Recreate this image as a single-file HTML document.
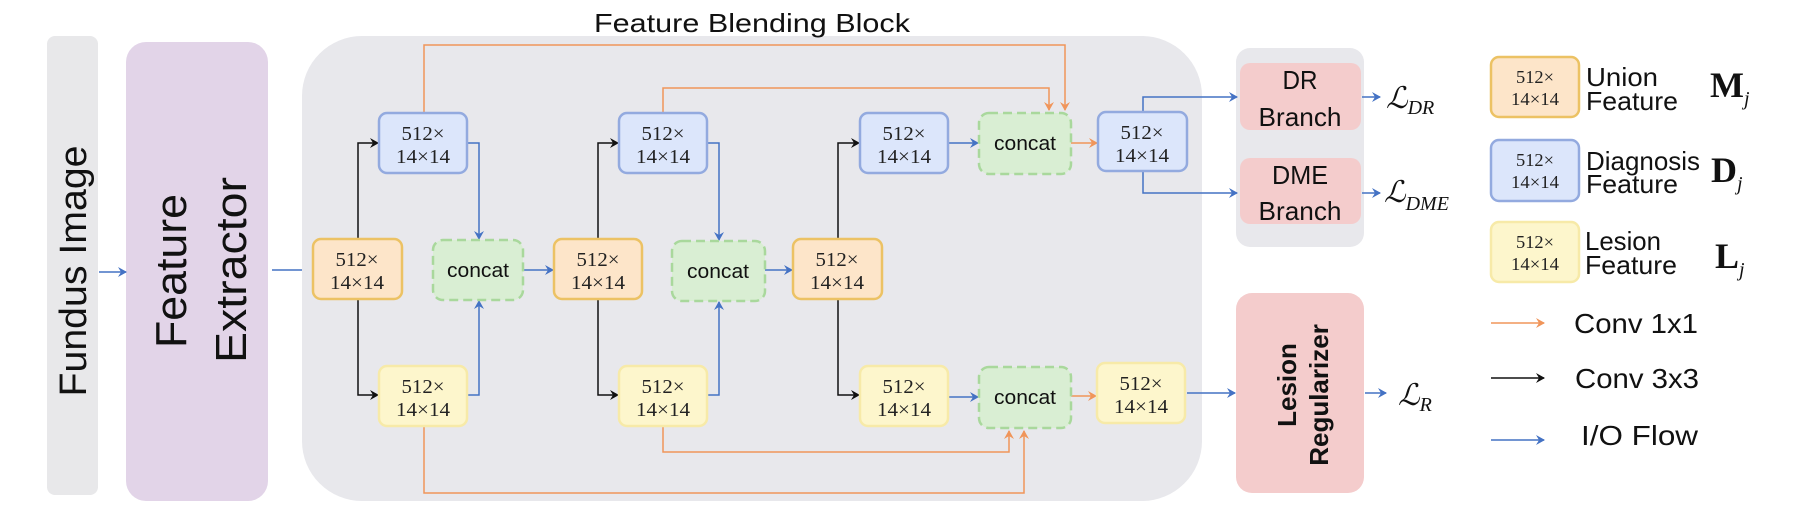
<!DOCTYPE html>
<html><head><meta charset="utf-8"><style>
html,body{margin:0;padding:0;background:#fff;}
svg{display:block;}
.bt{font-family:"Liberation Serif",serif;font-size:20px;fill:#222;text-anchor:middle;}
.ct{font-family:"Liberation Sans",sans-serif;font-size:20px;fill:#111;text-anchor:middle;}
.st{font-family:"Liberation Sans",sans-serif;fill:#111;}
.mt{font-family:"Liberation Serif",serif;font-style:italic;fill:#111;}
</style></head><body>
<svg width="1810" height="529" viewBox="0 0 1810 529" xmlns="http://www.w3.org/2000/svg">
<defs>
<marker id="ab" markerWidth="10" markerHeight="10" refX="8" refY="5" orient="auto" markerUnits="userSpaceOnUse"><path d="M0,0 L9,5 L0,10 L3,5 z" fill="#4472c4"/></marker>
<marker id="ao" markerWidth="10" markerHeight="10" refX="8" refY="5" orient="auto" markerUnits="userSpaceOnUse"><path d="M0,0 L9,5 L0,10 L3,5 z" fill="#f0955a"/></marker>
<marker id="ak" markerWidth="10" markerHeight="10" refX="8" refY="5" orient="auto" markerUnits="userSpaceOnUse"><path d="M0,0 L9,5 L0,10 L3,5 z" fill="#111"/></marker>
</defs>
<rect x="47" y="36" width="51" height="459" rx="8" fill="#e8e8ea"/>
<text class="st" font-size="38" transform="translate(86,271) rotate(-90)" text-anchor="middle" fill="#222" textLength="251" lengthAdjust="spacingAndGlyphs">Fundus Image</text>
<rect x="126" y="42" width="142" height="459" rx="20" fill="#e2d4e8"/>
<text class="st" font-size="44" transform="translate(186,271) rotate(-90)" text-anchor="middle" fill="#222" textLength="154" lengthAdjust="spacingAndGlyphs">Feature</text>
<text class="st" font-size="44" transform="translate(246,270) rotate(-90)" text-anchor="middle" fill="#222" textLength="186" lengthAdjust="spacingAndGlyphs">Extractor</text>
<line x1="99" y1="272" x2="126" y2="272" stroke="#4472c4" stroke-width="1.5" marker-end="url(#ab)"/>
<line x1="272" y1="270" x2="313" y2="270" stroke="#4472c4" stroke-width="1.5" marker-end="url(#ab)"/>
<rect x="302" y="36" width="900" height="465" rx="60" fill="#e8e8ec"/>
<text class="st" font-size="26" x="594" y="32" textLength="316" lengthAdjust="spacingAndGlyphs">Feature Blending Block</text>
<rect x="1236" y="48" width="128" height="199" rx="14" fill="#e8e8ec"/>

<g fill="none" stroke="#f0955a" stroke-width="1.5">
<polyline points="424,113 424,45 1065,45 1065,110" marker-end="url(#ao)"/>
<polyline points="663,113 663,88 1049,88 1049,110" marker-end="url(#ao)"/>
<polyline points="663,426 663,452 1009,452 1009,431" marker-end="url(#ao)"/>
<polyline points="424,426 424,493 1024,493 1024,431" marker-end="url(#ao)"/>
<line x1="1071" y1="143" x2="1097" y2="143" marker-end="url(#ao)"/>
<line x1="1071" y1="396" x2="1096" y2="396" marker-end="url(#ao)"/>
</g>
<g fill="none" stroke="#111" stroke-width="1.5">
<polyline points="358,239 358,143 378,143" marker-end="url(#ak)"/>
<polyline points="358,299 358,395 378,395" marker-end="url(#ak)"/>
<polyline points="598,239 598,143 618,143" marker-end="url(#ak)"/>
<polyline points="598,299 598,395 618,395" marker-end="url(#ak)"/>
<polyline points="838,239 838,143 859,143" marker-end="url(#ak)"/>
<polyline points="838,299 838,395 859,395" marker-end="url(#ak)"/>
</g>
<g fill="none" stroke="#4472c4" stroke-width="1.5">
<polyline points="467,143 479,143 479,239" marker-end="url(#ab)"/>
<polyline points="467,395 479,395 479,301" marker-end="url(#ab)"/>
<polyline points="707,143 719,143 719,240" marker-end="url(#ab)"/>
<polyline points="707,395 719,395 719,302" marker-end="url(#ab)"/>
<line x1="523" y1="270" x2="553" y2="270" marker-end="url(#ab)"/>
<line x1="765" y1="270" x2="792" y2="270" marker-end="url(#ab)"/>
<line x1="948" y1="143" x2="978" y2="143" marker-end="url(#ab)"/>
<line x1="948" y1="397" x2="978" y2="397" marker-end="url(#ab)"/>
<polyline points="1143,112 1143,97 1237,97" marker-end="url(#ab)"/>
<polyline points="1143,171 1143,193 1237,193" marker-end="url(#ab)"/>
<line x1="1187" y1="393" x2="1235" y2="393" marker-end="url(#ab)"/>
<line x1="1362" y1="97" x2="1380" y2="97" marker-end="url(#ab)"/>
<line x1="1362" y1="193" x2="1380" y2="193" marker-end="url(#ab)"/>
<line x1="1365" y1="393" x2="1386" y2="393" marker-end="url(#ab)"/>
</g>

<g stroke-width="2.5">
<g fill="#fde5c9" stroke="#ecc264">
<rect x="313" y="239" width="89" height="60" rx="8"/>
<rect x="554" y="239" width="88" height="60" rx="8"/>
<rect x="793" y="239" width="89" height="60" rx="8"/>
<rect x="1491" y="57" width="88" height="60" rx="8"/>
</g>
<g fill="#dce6fb" stroke="#93aadf">
<rect x="379" y="113" width="88" height="60" rx="8"/>
<rect x="619" y="113" width="88" height="60" rx="8"/>
<rect x="860" y="113" width="88" height="60" rx="8"/>
<rect x="1098" y="112" width="89" height="59" rx="8"/>
<rect x="1491" y="140" width="88" height="61" rx="8"/>
</g>
<g fill="#fdf6cc" stroke="#f7eaa8">
<rect x="379" y="366" width="88" height="60" rx="8"/>
<rect x="619" y="366" width="88" height="60" rx="8"/>
<rect x="860" y="366" width="88" height="60" rx="8"/>
<rect x="1097" y="363" width="88" height="60" rx="8"/>
<rect x="1491" y="222" width="88" height="60" rx="8"/>
</g>
<g fill="#d9eed3" stroke="#a9d89c" stroke-dasharray="9,5">
<rect x="433" y="240" width="90" height="60" rx="10"/>
<rect x="672" y="241" width="93" height="60" rx="10"/>
<rect x="979" y="113" width="92" height="61" rx="10"/>
<rect x="979" y="367" width="92" height="61" rx="10"/>
</g>
</g>
<g class="bt">
<text x="357" y="266" textLength="43" lengthAdjust="spacingAndGlyphs">512×</text><text x="357" y="289" textLength="54" lengthAdjust="spacingAndGlyphs">14×14</text>
<text x="598" y="266" textLength="43" lengthAdjust="spacingAndGlyphs">512×</text><text x="598" y="289" textLength="54" lengthAdjust="spacingAndGlyphs">14×14</text>
<text x="837" y="266" textLength="43" lengthAdjust="spacingAndGlyphs">512×</text><text x="837" y="289" textLength="54" lengthAdjust="spacingAndGlyphs">14×14</text>
<text x="423" y="140" textLength="43" lengthAdjust="spacingAndGlyphs">512×</text><text x="423" y="163" textLength="54" lengthAdjust="spacingAndGlyphs">14×14</text>
<text x="663" y="140" textLength="43" lengthAdjust="spacingAndGlyphs">512×</text><text x="663" y="163" textLength="54" lengthAdjust="spacingAndGlyphs">14×14</text>
<text x="904" y="140" textLength="43" lengthAdjust="spacingAndGlyphs">512×</text><text x="904" y="163" textLength="54" lengthAdjust="spacingAndGlyphs">14×14</text>
<text x="1142" y="139" textLength="43" lengthAdjust="spacingAndGlyphs">512×</text><text x="1142" y="162" textLength="54" lengthAdjust="spacingAndGlyphs">14×14</text>
<text x="423" y="393" textLength="43" lengthAdjust="spacingAndGlyphs">512×</text><text x="423" y="416" textLength="54" lengthAdjust="spacingAndGlyphs">14×14</text>
<text x="663" y="393" textLength="43" lengthAdjust="spacingAndGlyphs">512×</text><text x="663" y="416" textLength="54" lengthAdjust="spacingAndGlyphs">14×14</text>
<text x="904" y="393" textLength="43" lengthAdjust="spacingAndGlyphs">512×</text><text x="904" y="416" textLength="54" lengthAdjust="spacingAndGlyphs">14×14</text>
<text x="1141" y="390" textLength="43" lengthAdjust="spacingAndGlyphs">512×</text><text x="1141" y="413" textLength="54" lengthAdjust="spacingAndGlyphs">14×14</text>
<text x="1535" y="83" font-size="18" textLength="38" lengthAdjust="spacingAndGlyphs">512×</text><text x="1535" y="105" font-size="18" textLength="48" lengthAdjust="spacingAndGlyphs">14×14</text>
<text x="1535" y="166" font-size="18" textLength="38" lengthAdjust="spacingAndGlyphs">512×</text><text x="1535" y="188" font-size="18" textLength="48" lengthAdjust="spacingAndGlyphs">14×14</text>
<text x="1535" y="248" font-size="18" textLength="38" lengthAdjust="spacingAndGlyphs">512×</text><text x="1535" y="270" font-size="18" textLength="48" lengthAdjust="spacingAndGlyphs">14×14</text>
</g>
<g class="ct">
<text x="478" y="277" textLength="62" lengthAdjust="spacingAndGlyphs">concat</text>
<text x="718" y="278" textLength="62" lengthAdjust="spacingAndGlyphs">concat</text>
<text x="1025" y="150" textLength="62" lengthAdjust="spacingAndGlyphs">concat</text>
<text x="1025" y="404" textLength="62" lengthAdjust="spacingAndGlyphs">concat</text>
</g>

<rect x="1240" y="63" width="121" height="67" rx="10" fill="#f4cccc"/>
<rect x="1240" y="158" width="121" height="66" rx="10" fill="#f4cccc"/>
<g class="st" font-size="26" text-anchor="middle" fill="#222">
<text x="1300" y="89" textLength="35" lengthAdjust="spacingAndGlyphs">DR</text><text x="1300" y="126" textLength="83" lengthAdjust="spacingAndGlyphs">Branch</text>
<text x="1300" y="184" textLength="56" lengthAdjust="spacingAndGlyphs">DME</text><text x="1300" y="220" textLength="83" lengthAdjust="spacingAndGlyphs">Branch</text>
</g>
<rect x="1236" y="293" width="128" height="200" rx="16" fill="#f4cccc"/>
<text class="st" font-size="26" font-weight="bold" transform="translate(1296,385) rotate(-90)" text-anchor="middle" fill="#222">Lesion</text>
<text class="st" font-size="26" font-weight="bold" transform="translate(1328,395) rotate(-90)" text-anchor="middle" fill="#222">Regularizer</text>

<text class="mt" x="1386" y="108" font-size="30">ℒ<tspan font-size="20" dy="6">DR</tspan></text>
<text class="mt" x="1384" y="202" font-size="30">ℒ<tspan font-size="20" dy="8">DME</tspan></text>
<text class="mt" x="1398" y="405" font-size="30">ℒ<tspan font-size="20" dy="6">R</tspan></text>

<g class="st" font-size="26" fill="#222">
<text x="1586" y="86" textLength="72" lengthAdjust="spacingAndGlyphs">Union</text><text x="1586" y="110" textLength="92" lengthAdjust="spacingAndGlyphs">Feature</text>
<text x="1586" y="170" textLength="114" lengthAdjust="spacingAndGlyphs">Diagnosis</text><text x="1586" y="193" textLength="92" lengthAdjust="spacingAndGlyphs">Feature</text>
<text x="1585" y="250" textLength="76" lengthAdjust="spacingAndGlyphs">Lesion</text><text x="1585" y="274" textLength="92" lengthAdjust="spacingAndGlyphs">Feature</text>
</g>
<g font-family="Liberation Serif,serif" font-weight="bold" font-size="36" fill="#111">
<text x="1710" y="97">M<tspan font-size="20" font-style="italic" font-weight="normal" dy="8">j</tspan></text>
<text x="1711" y="182">D<tspan font-size="20" font-style="italic" font-weight="normal" dy="8">j</tspan></text>
<text x="1715" y="268">L<tspan font-size="20" font-style="italic" font-weight="normal" dy="8">j</tspan></text>
</g>
<line x1="1491" y1="323" x2="1544" y2="323" stroke="#f0955a" stroke-width="1.5" marker-end="url(#ao)"/>
<line x1="1491" y1="378" x2="1544" y2="378" stroke="#111" stroke-width="1.5" marker-end="url(#ak)"/>
<line x1="1491" y1="440" x2="1544" y2="440" stroke="#4472c4" stroke-width="1.5" marker-end="url(#ab)"/>
<g class="st" font-size="28" fill="#222">
<text x="1574" y="333" textLength="124" lengthAdjust="spacingAndGlyphs">Conv 1x1</text>
<text x="1575" y="388" textLength="124" lengthAdjust="spacingAndGlyphs">Conv 3x3</text>
<text x="1581" y="445" textLength="117" lengthAdjust="spacingAndGlyphs">I/O Flow</text>
</g>
</svg>
</body></html>
